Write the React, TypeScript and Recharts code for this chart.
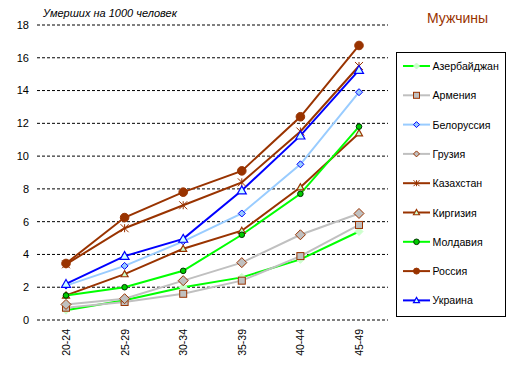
import React from "react";
import {
  LineChart,
  Line,
  XAxis,
  YAxis,
  CartesianGrid,
  Legend,
} from "recharts";

const ages = ["20-24", "25-29", "30-34", "35-39", "40-44", "45-49"];
const yTicks = [0, 2, 4, 6, 8, 10, 12, 14, 16, 18];

const azerbaijan = [0.6, 1.2, 2.0, 2.6, 3.7, 5.4];
const armenia = [0.75, 1.1, 1.6, 2.4, 3.9, 5.8];
const belorussia = [2.1, 3.3, 4.8, 6.5, 9.5, 13.9];
const georgia = [0.95, 1.3, 2.4, 3.5, 5.2, 6.5];
const kazakhstan = [3.4, 5.6, 7.0, 8.4, 11.5, 15.5];
const kirgizia = [1.5, 2.8, 4.35, 5.45, 8.1, 11.4];
const moldova = [1.5, 2.0, 3.0, 5.2, 7.7, 11.8];
const russia = [3.45, 6.25, 7.8, 9.1, 12.4, 16.75];
const ukraine = [2.2, 3.9, 4.95, 7.9, 11.25, 15.25];

const FONT = '"Liberation Sans", Arial, sans-serif';
const BROWN = "#993300";

type Shape = "diamond" | "square" | "triangle" | "circle" | "star";

interface Series {
  key: string;
  name: string;
  values: number[];
  color: string;
  shape: Shape;
  fill: string;
  stroke: string;
  r: number;
}

const series: Series[] = [
  { key: "az", name: "Азербайджан", values: azerbaijan, color: "#00FF00", shape: "diamond", fill: "#CCFFCC", stroke: "#CCFFCC", r: 4 },
  { key: "am", name: "Армения", values: armenia, color: "#C0C0C0", shape: "square", fill: "#C0C0C0", stroke: BROWN, r: 3.5 },
  { key: "by", name: "Белоруссия", values: belorussia, color: "#99CCFF", shape: "diamond", fill: "#99CCFF", stroke: "#0000FF", r: 3.5 },
  { key: "ge", name: "Грузия", values: georgia, color: "#C0C0C0", shape: "diamond", fill: "#C0C0C0", stroke: BROWN, r: 5 },
  { key: "kz", name: "Казахстан", values: kazakhstan, color: BROWN, shape: "star", fill: "none", stroke: BROWN, r: 4 },
  { key: "kg", name: "Киргизия", values: kirgizia, color: BROWN, shape: "triangle", fill: "#CCFFCC", stroke: BROWN, r: 3.5 },
  { key: "md", name: "Молдавия", values: moldova, color: "#00FF00", shape: "circle", fill: "#00CC00", stroke: "#003300", r: 2.8 },
  { key: "ru", name: "Россия", values: russia, color: BROWN, shape: "circle", fill: BROWN, stroke: BROWN, r: 4.3 },
  { key: "ua", name: "Украина", values: ukraine, color: "#0000FF", shape: "triangle", fill: "#CCFFFF", stroke: "#0000FF", r: 4.5 },
];

const data = ages.map((age, i) => {
  const row: Record<string, string | number> = { age };
  series.forEach((s) => {
    row[s.key] = s.values[i];
  });
  return row;
});

function marker(shape: Shape, cx: number, cy: number, r: number, fill: string, stroke: string, key?: string | number) {
  switch (shape) {
    case "diamond":
      return (
        <polygon key={key} points={`${cx},${cy - r} ${cx + r},${cy} ${cx},${cy + r} ${cx - r},${cy}`} fill={fill} stroke={stroke} strokeWidth={1} />
      );
    case "square":
      return <rect key={key} x={cx - r} y={cy - r} width={r * 2} height={r * 2} fill={fill} stroke={stroke} strokeWidth={1} />;
    case "triangle":
      return (
        <polygon key={key} points={`${cx},${cy - r} ${cx + r},${cy + r * 0.75} ${cx - r},${cy + r * 0.75}`} fill={fill} stroke={stroke} strokeWidth={1.2} />
      );
    case "circle":
      return <circle key={key} cx={cx} cy={cy} r={r} fill={fill} stroke={stroke} strokeWidth={1} />;
    case "star":
      return (
        <g key={key} stroke={stroke} strokeWidth={1}>
          <line x1={cx - r} y1={cy - r} x2={cx + r} y2={cy + r} />
          <line x1={cx - r} y1={cy + r} x2={cx + r} y2={cy - r} />
          <line x1={cx} y1={cy - r} x2={cx} y2={cy + r} />
        </g>
      );
  }
}

const makeDot = (s: Series) => (props: any) => marker(s.shape, props.cx, props.cy, s.r, s.fill, s.stroke, props.index);

const AgeTick = ({ x, y, payload }: any) => (
  <text
    x={x}
    y={y}
    transform={`rotate(-90 ${x} ${y})`}
    textAnchor="end"
    dy={4}
    fontSize={10.5}
    fontFamily={FONT}
    fill="#000"
  >
    {payload.value}
  </text>
);

const LegendBox = () => (
  <svg width={110} height={265} style={{ display: "block" }}>
    <rect x={0.5} y={0.5} width={109} height={264} fill="#fff" stroke="#000" strokeWidth={1} />
    {series.map((s, i) => {
      const y = 14 + i * 29.3;
      return (
        <g key={s.key}>
          <line x1={7} y1={y} x2={34} y2={y} stroke={s.color} strokeWidth={2} />
          {marker(s.shape, 20.5, y, Math.min(s.r, 3), s.fill, s.stroke)}
          <text x={36.5} y={y + 4} fontSize={10.6} fontFamily={FONT} fill="#000">
            {s.name}
          </text>
        </g>
      );
    })}
  </svg>
);

export default function App() {
  return (
    <div style={{ position: "absolute", left: 0, top: 0, background: "#fff" }}>
      <LineChart
        width={518}
        height={373}
        data={data}
        margin={{ top: 25, right: 130, bottom: 0, left: 0 }}
      >
        <text x={43} y={17} fontSize={11} fontStyle="italic" fontFamily={FONT} fill="#000">
          Умерших на 1000 человек
        </text>
        <text x={427} y={23} fontSize={14} fontFamily={FONT} fill={BROWN}>
          Мужчины
        </text>
        <CartesianGrid vertical={false} stroke="#000" strokeDasharray="3 2" />
        <XAxis
          dataKey="age"
          height={53}
          padding={{ left: 29, right: 29 }}
          tick={<AgeTick />}
          tickLine={false}
          axisLine={false}
          tickSize={0}
          tickMargin={9}
          interval={0}
        />
        <YAxis
          width={37}
          domain={[0, 18]}
          ticks={yTicks}
          tickLine={false}
          axisLine={false}
          tick={{ fontSize: 11, fill: "#000", fontFamily: FONT }}
        />
        <Legend
          layout="horizontal"
          verticalAlign="middle"
          align="center"
          content={<LegendBox />}
          wrapperStyle={{ left: 396, top: 52, width: 110, height: 265 }}
        />
        {series.map((s) => (
          <Line
            key={s.key}
            dataKey={s.key}
            name={s.name}
            stroke={s.color}
            strokeWidth={2}
            dot={makeDot(s)}
            activeDot={false}
            isAnimationActive={false}
          />
        ))}
      </LineChart>
    </div>
  );
}
